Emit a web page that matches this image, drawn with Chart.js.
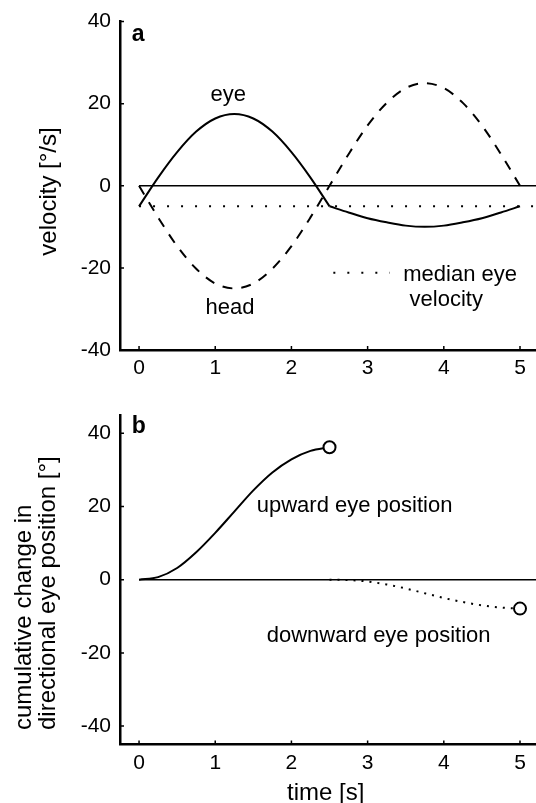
<!DOCTYPE html>
<html>
<head>
<meta charset="utf-8">
<title>Eye and head velocity</title>
<script src="https://cdn.jsdelivr.net/npm/chart.js@4"></script>
<style>
  html, body { margin: 0; padding: 0; background: #fff; }
  .panel { position: absolute; left: 0; }
  #panelA { top: 0; }
  #panelB { top: 393px; }
</style>
</head>
<body>
<div class="panel" id="panelA"><canvas id="velocityChart" width="536" height="400"></canvas></div>
<div class="panel" id="panelB"><canvas id="positionChart" width="536" height="410"></canvas></div>
<script>
// panel a: velocities [deg/s]
const tFirst = [0, 0.25, 0.5, 0.75, 1, 1.25, 1.5, 1.75, 2, 2.25, 2.5];
const tSecond = [2.5, 2.75, 3, 3.25, 3.5, 3.75, 4, 4.25, 4.5, 4.75, 5];
const tHead = [0, 0.25, 0.5, 0.75, 1, 1.25, 1.5, 1.75, 2, 2.25, 2.5, 2.75, 3, 3.25, 3.5, 3.75, 4, 4.25, 4.5, 4.75, 5];
const eyeVelFirst = [-5, 2, 8.2, 13.2, 16.4, 17.5, 16.4, 13.2, 8.2, 2, -5];
const eyeVelSecond = [-5, -6.5, -7.9, -8.9, -9.7, -10, -9.7, -8.9, -7.9, -6.5, -5];
const headVel = [0, -7.7, -14.7, -20.2, -23.8, -25, -23.8, -20.2, -14.7, -7.7, 0,
                 7.7, 14.7, 20.2, 23.8, 25, 23.8, 20.2, 14.7, 7.7, 0];
const medianT = [0, 5.3];
const medianVel = [-5, -5];
const legendT = [2.55, 3.29];
const legendY = [-21.2, -21.2];

// panel b: cumulative directional eye position [deg]
const tUp = [0, 0.25, 0.5, 0.75, 1, 1.25, 1.5, 1.75, 2, 2.25, 2.5];
const upwardPos = [0, 0.7, 3.2, 7.5, 12.8, 18.6, 24.4, 29.3, 32.9, 35.2, 36.2];
const tDown = [2.5, 2.75, 3, 3.25, 3.5, 3.75, 4, 4.25, 4.5, 4.75, 5];
const downwardPos = [0, -0.1, -0.5, -1.3, -2.4, -3.7, -5.0, -6.1, -7.0, -7.6, -7.9];

const zeroT = [0, 5.3];
const zeroY = [0, 0];

const xTicks = [0, 1, 2, 3, 4, 5];
const yTicks = [-40, -20, 0, 20, 40];

const FONT = '"Liberation Sans", Arial, Helvetica, sans-serif';

const pts = (xs, ys) => xs.map((x, i) => ({ x: x, y: ys[i] }));

// inward tick marks + free text, placed through the chart scales
const figPlugin = {
  id: 'fig',
  afterDraw(chart, args, opts) {
    const { ctx, chartArea, scales: { x, y } } = chart;
    ctx.save();
    ctx.strokeStyle = '#000';
    ctx.lineWidth = 1.5;
    ctx.beginPath();
    xTicks.forEach(v => {
      const px = x.getPixelForValue(v);
      ctx.moveTo(px, chartArea.bottom);
      ctx.lineTo(px, chartArea.bottom - 4);
    });
    yTicks.forEach(v => {
      const py = y.getPixelForValue(v);
      ctx.moveTo(chartArea.left, py);
      ctx.lineTo(chartArea.left + 4, py);
    });
    ctx.stroke();

    ctx.fillStyle = '#000';
    ctx.textBaseline = 'alphabetic';
    (opts.notes || []).forEach(n => {
      ctx.font = (n.bold ? 'bold ' : '') + n.size + 'px ' + FONT;
      ctx.textAlign = n.align || 'left';
      ctx.fillText(n.text, x.getPixelForValue(n.x), y.getPixelForValue(n.y));
    });
    (opts.titles || []).forEach(t => {
      ctx.save();
      ctx.translate(t.px, t.py);
      ctx.rotate(t.rot || 0);
      ctx.font = t.size + 'px ' + FONT;
      ctx.textAlign = t.align || 'center';
      ctx.fillText(t.text, 0, 0);
      ctx.restore();
    });
    ctx.restore();
  }
};

function makeScales(yMin, yMax, xHeight) {
  return {
    x: {
      type: 'linear',
      min: -0.25,
      max: 5.21,
      grid: { display: false, drawTicks: false },
      border: { display: true, color: '#000', width: 2.5 },
      ticks: { color: '#000', font: { family: FONT, size: 21 }, padding: 6, maxRotation: 0 },
      afterBuildTicks: s => { s.ticks = xTicks.map(v => ({ value: v })); },
      afterFit: s => { s.height = xHeight; }
    },
    y: {
      min: yMin,
      max: yMax,
      grid: { display: false, drawTicks: false },
      border: { display: true, color: '#000', width: 2.5 },
      ticks: { color: '#000', font: { family: FONT, size: 21 }, padding: 9 },
      afterBuildTicks: s => { s.ticks = yTicks.map(v => ({ value: v })); },
      afterFit: s => { s.width = 120; }
    }
  };
}

const lineBase = {
  borderColor: '#000',
  pointRadius: 0,
  fill: false,
  cubicInterpolationMode: 'monotone'
};

new Chart(document.getElementById('velocityChart'), {
  type: 'line',
  data: {
    datasets: [
      { ...lineBase, label: 'zero', data: pts(zeroT, zeroY), borderWidth: 1.5 },
      { ...lineBase, label: 'median eye velocity', data: pts(medianT, medianVel), borderWidth: 2, borderDash: [2, 12] },
      { ...lineBase, label: 'legend', data: pts(legendT, legendY), borderWidth: 2, borderDash: [2, 12] },
      { ...lineBase, label: 'head', data: pts(tHead, headVel), borderWidth: 2, borderDash: [10, 9] },
      { ...lineBase, label: 'eye', data: pts(tFirst, eyeVelFirst), borderWidth: 2 },
      { ...lineBase, label: 'eye 2', data: pts(tSecond, eyeVelSecond), borderWidth: 2 }
    ]
  },
  options: {
    responsive: false,
    animation: false,
    layout: { autoPadding: false, padding: { top: 20.7, left: 0, right: 0, bottom: 0 } },
    scales: makeScales(-40, 40, 50),
    plugins: {
      legend: { display: false },
      tooltip: { enabled: false },
      fig: {
        notes: [
          { text: 'a', x: -0.096, y: 35.3, size: 23, bold: true },
          { text: 'eye', x: 1.172, y: 20.7, size: 22, align: 'center' },
          { text: 'head', x: 1.194, y: -31.3, size: 22, align: 'center' },
          { text: 'median eye', x: 3.468, y: -23.2, size: 22 },
          { text: 'velocity', x: 3.55, y: -29.3, size: 22 }
        ],
        titles: [
          { text: 'velocity [°/s]', px: 56, py: 191.5, rot: -Math.PI / 2, size: 24, align: 'center' }
        ]
      }
    }
  },
  plugins: [figPlugin]
});

new Chart(document.getElementById('positionChart'), {
  type: 'line',
  data: {
    datasets: [
      { ...lineBase, label: 'zero', data: pts(zeroT, zeroY), borderWidth: 1.5 },
      { ...lineBase, label: 'upward eye position', data: pts(tUp, upwardPos), borderWidth: 2,
        pointRadius: c => (c.dataIndex === tUp.length - 1 ? 6 : 0),
        pointBackgroundColor: '#fff', pointBorderColor: '#000', pointBorderWidth: 2 },
      { ...lineBase, label: 'downward eye position', data: pts(tDown, downwardPos), borderWidth: 2, borderDash: [2, 6],
        pointRadius: c => (c.dataIndex === tDown.length - 1 ? 6 : 0),
        pointBackgroundColor: '#fff', pointBorderColor: '#000', pointBorderWidth: 2 }
    ]
  },
  options: {
    responsive: false,
    animation: false,
    layout: { autoPadding: false, padding: { top: 22, left: 0, right: 0, bottom: 0 } },
    scales: makeScales(-45, 45, 58.6),
    plugins: {
      legend: { display: false },
      tooltip: { enabled: false },
      fig: {
        notes: [
          { text: 'b', x: -0.096, y: 40.2, size: 23, bold: true },
          { text: 'upward eye position', x: 1.545, y: 18.6, size: 22 },
          { text: 'downward eye position', x: 1.676, y: -17.0, size: 22 }
        ],
        titles: [
          { text: 'cumulative change in', px: 31, py: 337, rot: -Math.PI / 2, size: 24, align: 'left' },
          { text: 'directional eye position [°]', px: 55, py: 337, rot: -Math.PI / 2, size: 24, align: 'left' },
          { text: 'time [s]', px: 325.7, py: 407, rot: 0, size: 24, align: 'center' }
        ]
      }
    }
  },
  plugins: [figPlugin]
});
</script>
</body>
</html>
